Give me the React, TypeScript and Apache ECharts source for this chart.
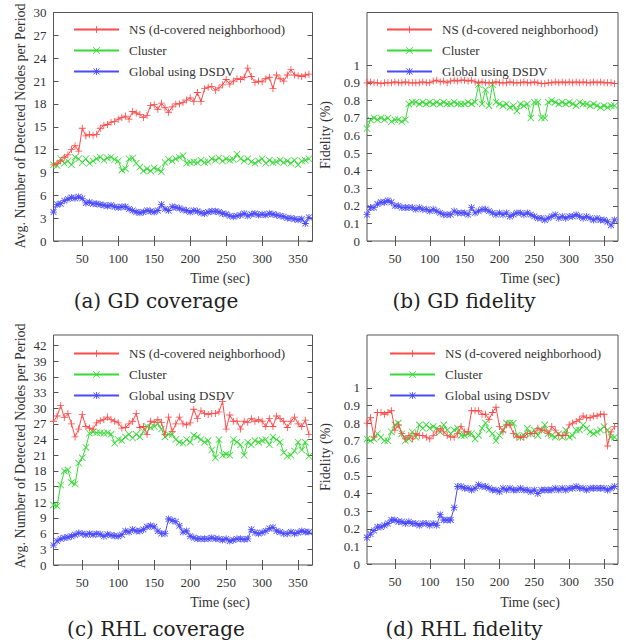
import React, { useEffect, useRef } from "react";
import * as echarts from "echarts";

// ---------- data ----------
const times = [
  10, 15, 20, 25, 30, 35, 40, 45, 50, 55, 60, 65,
  70, 75, 80, 85, 90, 95, 100, 105, 110, 115, 120, 125,
  130, 135, 140, 145, 150, 155, 160, 165, 170, 175, 180, 185,
  190, 195, 200, 205, 210, 215, 220, 225, 230, 235, 240, 245,
  250, 255, 260, 265, 270, 275, 280, 285, 290, 295, 300, 305,
  310, 315, 320, 325, 330, 335, 340, 345, 350, 355, 360, 365,
];

const seriesNames = ["NS (d-covered neighborhood)", "Cluster", "Global using DSDV"];

// (a) GD coverage
const gdCoverageNS = [
  10.0, 10.2, 10.5, 11.0, 11.3, 12.0, 12.5, 11.8, 14.8, 13.8, 14.0, 13.9,
  14.0, 14.8, 15.2, 15.3, 15.6, 15.7, 16.0, 16.2, 16.4, 16.0, 17.0, 16.8,
  16.6, 16.2, 16.5, 17.8, 17.9, 17.3, 18.1, 17.5, 16.9, 17.6, 18.0, 18.0,
  18.2, 18.5, 18.8, 18.3, 19.5, 18.3, 20.0, 20.2, 20.3, 19.8, 20.1, 20.5,
  21.2, 20.6, 21.0, 21.3, 21.2, 21.5, 22.7, 21.6, 20.8, 21.0, 20.9, 21.3,
  21.5, 20.0, 21.8, 21.3, 21.0, 21.8, 22.5, 21.8, 21.7, 21.6, 21.8, 21.9,
];
const gdCoverageCluster = [
  10.0, 9.9, 10.8, 10.2, 10.5, 10.0, 11.0, 10.8, 10.3, 10.8, 10.2, 10.5,
  10.8, 11.0, 10.6, 10.9, 11.0, 10.7, 10.5, 9.3, 9.5, 10.8, 10.9, 10.2,
  9.7, 9.2, 9.5, 9.2, 9.6, 9.4, 9.1, 10.3, 10.7, 10.5, 10.8, 11.0,
  11.2, 10.2, 10.3, 10.4, 10.3, 10.6, 10.3, 10.4, 10.8, 10.6, 10.9, 10.5,
  10.8, 10.6, 10.7, 11.4, 10.8, 10.5, 10.8, 10.4, 10.2, 10.5, 10.8, 10.2,
  10.6, 10.3, 10.4, 10.6, 10.3, 10.5, 10.2, 10.6, 10.0, 10.5, 10.6, 10.8,
];
const gdCoverageGlobal = [
  3.8, 4.8, 4.9, 5.3, 5.5, 5.7, 5.6, 5.8, 5.6, 5.0, 5.1, 4.9,
  4.9, 4.8, 4.7, 4.6, 4.7, 4.5, 4.4, 4.5, 4.5, 4.2, 4.0, 3.8,
  3.7, 3.8, 4.0, 3.9, 3.8, 4.0, 4.8, 4.2, 4.0, 4.5, 4.4, 4.3,
  4.1, 4.0, 3.8, 4.0, 3.9, 3.7, 3.6, 3.8, 3.9, 3.9, 3.8, 3.6,
  3.5, 3.3, 3.2, 3.3, 3.4, 3.6, 3.3, 3.5, 3.6, 3.4, 3.5, 3.4,
  3.6, 3.5, 3.4, 3.3, 3.2, 3.0, 3.0, 2.9, 2.8, 2.9, 2.3, 3.1,
];

// (b) GD fidelity
const gdFidelityNS = [
  0.9, 0.905, 0.9, 0.9, 0.895, 0.9, 0.9, 0.9, 0.905, 0.9, 0.9, 0.905,
  0.9, 0.9, 0.9, 0.9, 0.905, 0.9, 0.9, 0.91, 0.915, 0.905, 0.91, 0.9,
  0.91, 0.915, 0.91, 0.915, 0.915, 0.91, 0.915, 0.905, 0.9, 0.905, 0.9, 0.9,
  0.9, 0.905, 0.9, 0.9, 0.9, 0.905, 0.9, 0.9, 0.9, 0.905, 0.9, 0.9,
  0.905, 0.9, 0.895, 0.895, 0.9, 0.9, 0.905, 0.9, 0.905, 0.9, 0.905, 0.9,
  0.905, 0.9, 0.905, 0.9, 0.9, 0.905, 0.9, 0.905, 0.9, 0.9, 0.9, 0.895,
];
const gdFidelityCluster = [
  0.64, 0.69, 0.7, 0.69, 0.7, 0.69, 0.7, 0.68, 0.69, 0.69, 0.68, 0.69,
  0.78, 0.79, 0.79, 0.78, 0.79, 0.78, 0.79, 0.78, 0.79, 0.78, 0.79, 0.78,
  0.78, 0.79, 0.78, 0.78, 0.78, 0.79, 0.78, 0.79, 0.89, 0.78, 0.86, 0.77,
  0.89, 0.79, 0.78, 0.77, 0.78, 0.76, 0.77, 0.74, 0.78, 0.77, 0.78, 0.7,
  0.79, 0.79, 0.7, 0.7, 0.79, 0.8, 0.79, 0.78, 0.79, 0.78, 0.79, 0.78,
  0.77, 0.79, 0.78, 0.78, 0.77, 0.78, 0.77, 0.76, 0.77, 0.76, 0.77, 0.77,
];
const gdFidelityGlobal = [
  0.15, 0.19, 0.19, 0.21, 0.22, 0.22, 0.23, 0.22, 0.2, 0.2, 0.19, 0.19,
  0.19, 0.19, 0.18, 0.19, 0.18, 0.18, 0.17, 0.18, 0.17, 0.16, 0.15, 0.15,
  0.15, 0.17, 0.16, 0.16, 0.16, 0.15, 0.19, 0.16, 0.17, 0.18, 0.18, 0.17,
  0.16, 0.15, 0.16, 0.15, 0.16, 0.14, 0.15, 0.16, 0.16, 0.15, 0.16, 0.15,
  0.14, 0.13, 0.13, 0.12, 0.13, 0.14, 0.15, 0.13, 0.14, 0.13, 0.14, 0.14,
  0.15, 0.14, 0.13, 0.14, 0.13, 0.12, 0.13, 0.12, 0.12, 0.11, 0.09, 0.12,
];

// (c) RHL coverage
const rhlCoverageNS = [
  27.5, 28.5, 30.5, 28.2, 29.0, 27.0, 24.5, 26.0, 28.8, 26.5, 26.2, 26.0,
  27.2, 27.6, 27.8, 28.3, 27.8, 27.5, 27.2, 26.2, 26.3, 27.0, 27.5, 29.0,
  26.3, 26.5, 25.0, 27.5, 27.3, 27.8, 27.3, 25.0, 28.3, 25.5, 27.0, 28.3,
  27.0, 26.8, 27.2, 29.8, 28.0, 29.5, 29.0, 28.8, 29.0, 29.0, 29.3, 31.3,
  26.0, 28.7, 27.5, 27.5, 26.0, 27.5, 27.3, 28.0, 27.5, 27.8, 27.5, 26.5,
  28.0, 26.5, 28.5, 28.0, 27.5, 26.3, 27.5, 28.3, 27.0, 26.5, 27.7, 25.0,
];
const rhlCoverageCluster = [
  11.5, 11.3, 15.3, 18.0, 18.2, 15.8, 15.5, 19.5, 20.5, 22.5, 25.2, 25.5,
  25.3, 25.3, 25.2, 25.3, 25.0, 23.3, 24.0, 23.8, 24.5, 25.0, 24.3, 25.0,
  24.5, 25.5, 26.5, 26.3, 26.5, 27.0, 26.0, 24.5, 25.0, 25.0, 24.0, 23.5,
  23.3, 24.0, 23.5, 24.8, 24.5, 24.0, 23.5, 23.8, 22.0, 20.5, 24.0, 21.0,
  21.2, 21.0, 24.0, 23.5, 23.0, 21.0, 23.5, 23.0, 23.8, 23.5, 23.8, 24.0,
  23.0, 24.5, 24.0, 23.5, 21.5, 20.8, 21.0, 21.8, 23.5, 22.0, 23.5, 20.8,
];
const rhlCoverageGlobal = [
  3.8, 4.6, 5.0, 5.2, 5.3, 5.5, 5.8, 6.1, 6.0, 5.8, 6.0, 5.8,
  6.0, 5.9, 5.5, 5.9, 5.7, 5.6, 5.5, 5.8, 6.5, 6.3, 6.8, 6.5,
  6.5, 6.8, 7.3, 7.5, 7.3, 6.5, 6.0, 6.0, 8.8, 8.5, 8.3, 7.5,
  6.3, 6.5, 5.5, 5.2, 5.0, 5.0, 5.0, 5.0, 5.2, 5.0, 5.0, 4.8,
  5.0, 4.6, 4.8, 5.0, 5.0, 4.9, 5.0, 6.8, 6.2, 6.0, 6.2, 6.5,
  7.0, 7.2, 6.5, 6.3, 6.0, 6.0, 6.3, 6.0, 6.2, 6.5, 6.3, 6.3,
];

// (d) RHL fidelity
const rhlFidelityNS = [
  0.8, 0.83, 0.72, 0.86, 0.86, 0.85, 0.86, 0.87, 0.76, 0.79, 0.74, 0.71,
  0.73, 0.71, 0.74, 0.73, 0.73, 0.72, 0.71, 0.73, 0.75, 0.77, 0.75, 0.73,
  0.72, 0.72, 0.74, 0.78, 0.75, 0.75, 0.87, 0.87, 0.87, 0.85, 0.85, 0.82,
  0.86, 0.89, 0.78, 0.75, 0.79, 0.79, 0.74, 0.72, 0.72, 0.72, 0.74, 0.74,
  0.74, 0.77, 0.76, 0.76, 0.74, 0.78, 0.76, 0.73, 0.73, 0.73, 0.79, 0.8,
  0.81, 0.82, 0.84, 0.83, 0.83, 0.84, 0.84, 0.85, 0.85, 0.67, 0.75, 0.78,
];
const rhlFidelityCluster = [
  0.71, 0.7, 0.71, 0.74, 0.72, 0.7, 0.7, 0.75, 0.79, 0.8, 0.74, 0.7,
  0.71, 0.75, 0.72, 0.79, 0.77, 0.79, 0.77, 0.78, 0.77, 0.75, 0.79, 0.76,
  0.74, 0.76, 0.77, 0.73, 0.73, 0.74, 0.74, 0.71, 0.73, 0.77, 0.8, 0.76,
  0.74, 0.7, 0.73, 0.76, 0.8, 0.8, 0.8, 0.73, 0.72, 0.73, 0.77, 0.74,
  0.76, 0.73, 0.76, 0.79, 0.74, 0.73, 0.72, 0.74, 0.72, 0.76, 0.72, 0.73,
  0.76, 0.76, 0.79, 0.77, 0.75, 0.74, 0.75, 0.76, 0.78, 0.76, 0.72, 0.72,
];
const rhlFidelityGlobal = [
  0.15, 0.17, 0.19, 0.21, 0.21, 0.22, 0.23, 0.25, 0.25, 0.24, 0.24, 0.23,
  0.24, 0.23, 0.23, 0.22, 0.23, 0.23, 0.22, 0.23, 0.22, 0.28, 0.25, 0.25,
  0.25, 0.32, 0.44, 0.44, 0.43, 0.43, 0.42, 0.43, 0.45, 0.44, 0.44, 0.43,
  0.42, 0.42, 0.41, 0.43, 0.42, 0.43, 0.42, 0.42, 0.43, 0.42, 0.42, 0.41,
  0.42, 0.4, 0.42, 0.42, 0.42, 0.42, 0.43, 0.42, 0.43, 0.42, 0.43, 0.43,
  0.44, 0.43, 0.43, 0.42, 0.43, 0.43, 0.43, 0.43, 0.43, 0.42, 0.43, 0.44,
];

// tick labels
const timeTicks = [50, 100, 150, 200, 250, 300, 350];
const gdCoverageTicks = [0, 3, 6, 9, 12, 15, 18, 21, 24, 27, 30];
const rhlCoverageTicks = [0, 3, 6, 9, 12, 15, 18, 21, 24, 27, 30, 33, 36, 39, 42];
const fidelityTicks = [0, 0.1, 0.2, 0.3, 0.4, 0.5, 0.6, 0.7, 0.8, 0.9, 1];

const captions = ["(a) GD coverage", "(b) GD fidelity", "(c) RHL coverage", "(d) RHL fidelity"];
const xTitle = "Time (sec)";
const coverageTitle = "Avg. Number of Detected Nodes per Period";
const fidelityTitle = "Fidelity (%)";

// ---------- styling / layout ----------
const COLORS = ["#ff4a4a", "#36d936", "#4a4aff"];
const SYMBOLS = [
  "path://M4.4,0H5.6V10H4.4Z M0,4.4H10V5.6H0Z",
  "path://M0.8,0L10,9.2L9.2,10L0,0.8Z M9.2,0L10,0.8L0.8,10L0,9.2Z",
  "path://M4.4,0H5.6V10H4.4Z M0,4.4H10V5.6H0Z M1.2,0.4L9.6,8.8L8.8,9.6L0.4,1.2Z M8.8,0.4L9.6,1.2L1.2,9.6L0.4,8.8Z",
];
const SERIF = '"Liberation Serif", "Times New Roman", serif';
const TEXT_COLOR = "#333";
const BORDER = "#555";

const panels = [
  {
    grid: { left: 53.5, top: 12.5, width: 259, height: 228.5 },
    yMax: 30, yTicks: gdCoverageTicks, values: [gdCoverageNS, gdCoverageCluster, gdCoverageGlobal],
    legend: { left: 73, top: 23 }, yTitle: coverageTitle, yTitlePos: [20, 126],
    xTitlePos: [220, 278], captionPos: [156, 301],
  },
  {
    grid: { left: 367, top: 12.5, width: 251, height: 228.5 },
    yMax: 1.3, yTicks: fidelityTicks, values: [gdFidelityNS, gdFidelityCluster, gdFidelityGlobal],
    legend: { left: 386, top: 23 }, yTitle: fidelityTitle, yTitlePos: [325, 135],
    xTitlePos: [530, 278], captionPos: [464, 301],
  },
  {
    grid: { left: 53.5, top: 335, width: 259, height: 230 },
    yMax: 44, yTicks: rhlCoverageTicks, values: [rhlCoverageNS, rhlCoverageCluster, rhlCoverageGlobal],
    legend: { left: 73, top: 347 }, yTitle: coverageTitle, yTitlePos: [20, 446],
    xTitlePos: [220, 602], captionPos: [156, 629],
  },
  {
    grid: { left: 367, top: 335, width: 251, height: 229 },
    yMax: 1.3, yTicks: fidelityTicks, values: [rhlFidelityNS, rhlFidelityCluster, rhlFidelityGlobal],
    legend: { left: 389, top: 347 }, yTitle: fidelityTitle, yTitlePos: [325, 457],
    xTitlePos: [530, 602], captionPos: [464, 629],
  },
];

const labelFmt = (v: number) => String(Math.round(v * 100) / 100);

function buildOption() {
  const grid: any[] = [];
  const xAxis: any[] = [];
  const yAxis: any[] = [];
  const series: any[] = [];
  const legend: any[] = [];
  const graphic: any[] = [];

  panels.forEach((p) => {
    grid.push({ ...p.grid, show: true, borderColor: BORDER, borderWidth: 1, backgroundColor: "transparent" });
  });
  panels.forEach((p, i) => {
    xAxis.push({
      type: "value", gridIndex: i, min: 10, max: 370, position: "bottom",
      axisLine: { show: false },
      axisTick: { show: true, inside: true, length: 5, lineStyle: { color: BORDER }, customValues: timeTicks },
      axisLabel: { customValues: timeTicks, margin: 11, fontFamily: SERIF, fontSize: 13, color: TEXT_COLOR },
      splitLine: { show: false },
    });
    yAxis.push({
      type: "value", gridIndex: i, min: 0, max: p.yMax, position: "left",
      axisLine: { show: false },
      axisTick: { show: true, inside: true, length: 5, lineStyle: { color: BORDER }, customValues: p.yTicks },
      axisLabel: { customValues: p.yTicks, margin: 7, fontFamily: SERIF, fontSize: 13, color: TEXT_COLOR, formatter: labelFmt },
      splitLine: { show: false },
    });
  });
  panels.forEach((p, i) => {
    xAxis.push({
      type: "value", gridIndex: i, min: 10, max: 370, position: "top",
      axisLine: { show: false },
      axisTick: { show: true, inside: true, length: 5, lineStyle: { color: BORDER }, customValues: timeTicks },
      axisLabel: { show: false },
      splitLine: { show: false },
    });
    yAxis.push({
      type: "value", gridIndex: i, min: 0, max: p.yMax, position: "right",
      axisLine: { show: false },
      axisTick: { show: true, inside: true, length: 5, lineStyle: { color: BORDER }, customValues: p.yTicks },
      axisLabel: { show: false },
      splitLine: { show: false },
    });
  });

  panels.forEach((p, i) => {
    p.values.forEach((vals, s) => {
      series.push({
        type: "line",
        name: seriesNames[s],
        xAxisIndex: i,
        yAxisIndex: i,
        data: times.map((t, k) => [t, vals[k]]),
        symbol: SYMBOLS[s],
        symbolSize: 7,
        showSymbol: true,
        showAllSymbol: true,
        lineStyle: { color: COLORS[s], width: 1 },
        itemStyle: { color: COLORS[s] },
        silent: true,
        z: 3 - s,
      });
    });
    legend.push({
      orient: "vertical",
      left: p.legend.left,
      top: p.legend.top,
      padding: 0,
      itemWidth: 45,
      itemHeight: 9,
      itemGap: 8,
      selectedMode: false,
      data: seriesNames,
      textStyle: { fontFamily: SERIF, fontSize: 13, color: TEXT_COLOR, padding: [0, 0, 0, 5] },
    });
    graphic.push({
      type: "text", x: p.yTitlePos[0], y: p.yTitlePos[1], rotation: Math.PI / 2,
      style: { text: p.yTitle, font: `14px ${SERIF}`, fill: TEXT_COLOR, textAlign: "center", textVerticalAlign: "middle", align: "center", verticalAlign: "middle" },
    });
    graphic.push({
      type: "text", x: p.xTitlePos[0], y: p.xTitlePos[1],
      style: { text: xTitle, font: `14px ${SERIF}`, fill: TEXT_COLOR, textAlign: "center", textVerticalAlign: "middle", align: "center", verticalAlign: "middle" },
    });
    graphic.push({
      type: "text", x: p.captionPos[0], y: p.captionPos[1],
      style: { text: captions[i], font: `20px "DejaVu Serif", serif`, fill: "#222", textAlign: "center", textVerticalAlign: "middle", align: "center", verticalAlign: "middle" },
    });
  });

  return {
    animation: false,
    backgroundColor: "#ffffff",
    grid, xAxis, yAxis, series, legend, graphic,
  };
}

export default function App() {
  const ref = useRef<HTMLDivElement>(null);
  useEffect(() => {
    if (!ref.current) return;
    const chart = echarts.init(ref.current, undefined, { renderer: "svg" });
    chart.setOption(buildOption() as any);
    return () => chart.dispose();
  }, []);
  return (
    <div
      ref={ref}
      style={{ position: "absolute", left: 0, top: 0, width: 626, height: 643, background: "#fff" }}
    />
  );
}
